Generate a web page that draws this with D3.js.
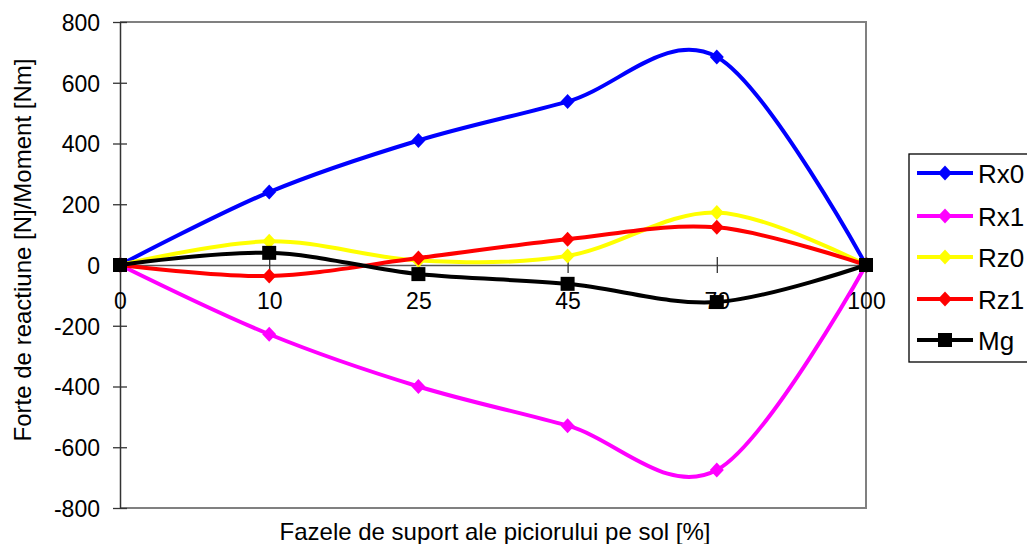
<!DOCTYPE html>
<html><head><meta charset="utf-8">
<script src="https://cdn.jsdelivr.net/npm/d3@7"></script>
<style>body{margin:0;background:#fff}svg{display:block}text{font-family:"Liberation Sans",Arial,sans-serif;fill:#000}</style>
</head><body><svg id="c" width="1027" height="544"></svg>
<script>
const categories = ["0","10","25","45","70","100"];
const rx0 = [0, 240, 410, 538, 685, 0];
const rx1 = [0, -228, -400, -529, -675, 0];
const rz0 = [0, 78, 15, 30, 173, 0];
const rz1 = [0, -36, 23, 85, 124, 0];
const mg  = [0, 40, -30, -62, -122, 0];
const yTicks = [-800,-600,-400,-200,0,200,400,600,800];
const seriesNames = ["Rx0","Rx1","Rz0","Rz1","Mg"];
const seriesColors = ["#0000FF","#FF00FF","#FFFF00","#FF0000","#000000"];
const seriesShapes = ["diamond","diamond","diamond","diamond","square"];
const seriesData = [rx0, rx1, rz0, rz1, mg];

const FONT = "Liberation Sans, Arial, sans-serif";
const svg = d3.select("#c");
const L=120, R=866, T=22, B=508;
const x = d3.scalePoint().domain(categories).range([L,R]);
const y = d3.scaleLinear().domain([-800,800]).range([B,T]);

// frame
svg.append("path").attr("d",`M${L},${T}H${R}V${B}H${L}`).attr("fill","none").attr("stroke","#808080").attr("stroke-width",2);
// y axis
const ya = svg.append("g").attr("transform",`translate(${L},0)`)
  .call(d3.axisLeft(y).tickValues(yTicks).tickSize(0).tickPadding(20).tickFormat(d=>String(d)));
ya.select(".domain").attr("stroke","#333").attr("stroke-width",1.5);
ya.selectAll("text").attr("font-size",23).attr("font-family",FONT).attr("fill","#000").attr("dy","0.36em");
ya.selectAll(".tick").append("line").attr("x1",-7).attr("x2",7).attr("stroke","#333").attr("stroke-width",1.3);
// x axis at zero
const xa = svg.append("g").attr("transform",`translate(0,${y(0)})`)
  .call(d3.axisBottom(x).tickSize(0));
xa.select(".domain").attr("stroke","#555").attr("stroke-width",1.3);
xa.selectAll("text").attr("font-size",23).attr("font-family",FONT).attr("fill","#000").attr("y",44).attr("dy",0);
xa.selectAll(".tick").append("line").attr("y1",-8).attr("y2",8).attr("stroke","#333").attr("stroke-width",1.3);

// titles
svg.append("text").attr("transform",`translate(31,250) rotate(-90)`).attr("text-anchor","middle")
  .attr("font-size",24).text("Forte de reactiune [N]/Moment [Nm]");
svg.append("text").attr("x",495).attr("y",540).attr("text-anchor","middle")
  .attr("font-size",24).text("Fazele de suport ale piciorului pe sol [%]");

const line = d3.line().x((d,i)=>x(categories[i])).y(d=>y(d)).curve(d3.curveCardinal.tension(0));
const sym = s => s==="square" ? "M-7,-7H7V7H-7Z" : "M0,-7.5L7,0L0,7.5L-7,0Z";

seriesData.forEach((vals,k)=>{
  const g = svg.append("g");
  g.append("path").datum(vals).attr("d",line).attr("fill","none").attr("stroke",seriesColors[k]).attr("stroke-width",4);
  g.selectAll("path.m").data(vals).enter().append("path").attr("class","m")
    .attr("transform",(d,i)=>`translate(${x(categories[i])},${y(d)})`)
    .attr("d",sym(seriesShapes[k])).attr("fill",seriesColors[k]);
});

// legend
const lg = svg.append("g");
lg.append("rect").attr("x",909).attr("y",154).attr("width",130).attr("height",208).attr("fill","#fff").attr("stroke","#000").attr("stroke-width",1.3);
const ly = [173,216,257,299,340];
seriesNames.forEach((n,k)=>{
  lg.append("line").attr("x1",917).attr("x2",973).attr("y1",ly[k]).attr("y2",ly[k]).attr("stroke",seriesColors[k]).attr("stroke-width",4);
  lg.append("path").attr("transform",`translate(945,${ly[k]})`).attr("d",sym(seriesShapes[k])).attr("fill",seriesColors[k]);
  lg.append("text").attr("x",978).attr("y",ly[k]+10).attr("font-size",26).text(n);
});
</script></body></html>
